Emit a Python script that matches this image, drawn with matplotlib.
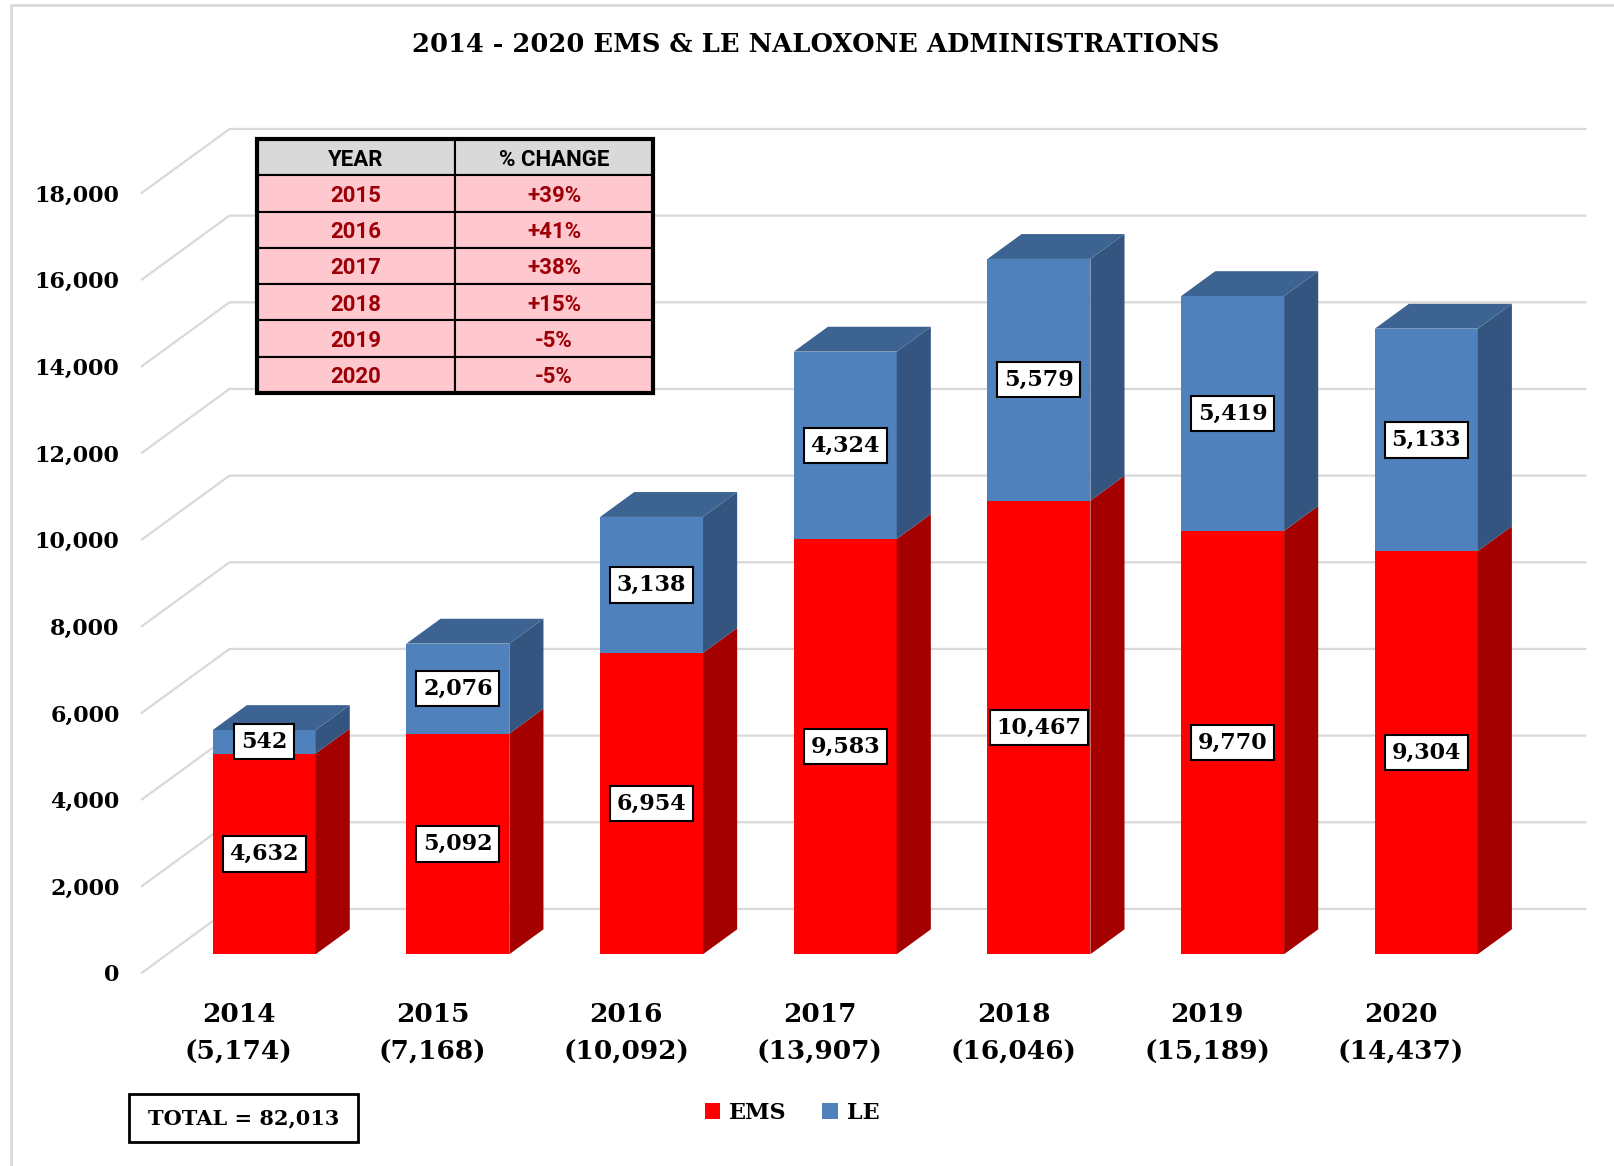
import numpy as np
import matplotlib.pyplot as plt
from matplotlib.patches import Polygon, Rectangle, Patch

years = ['2014', '2015', '2016', '2017', '2018', '2019', '2020']
ems = np.array([4632, 5092, 6954, 9583, 10467, 9770, 9304])
le = np.array([542, 2076, 3138, 4324, 5579, 5419, 5133])
totals = ems + le
yticks = np.arange(0, 18001, 2000)

# oblique projection used for the 3d look (depth d in 0..1)
DX = 0.4517
DV = 1472.0
d0, d1 = 0.29, 0.68
hw = 0.2657

def proj(x, v, d):
    return (x + d * DX, v + d * DV)

serif = 'DejaVu Serif'
fig = plt.figure(figsize=(16.14, 11.66), dpi=100)
ax = fig.add_axes([0, 0, 1, 1])
ax.set_xlim(-1.233, 7.100)
ax.set_ylim(-4461, 22449)
ax.axis('off')

# chart border (only left and top edges show)
ax.plot([11 / 1614, 11 / 1614, 1.0], [0.0, 1 - 5 / 1166, 1 - 5 / 1166],
        transform=ax.transAxes, color='#d9d9d9', lw=2)

# gridlines: left wall diagonals + back wall
for v in yticks:
    a = proj(-0.5, v, 0)
    b = proj(-0.5, v, 1)
    c = proj(6.5, v, 1)
    ax.plot([a[0], b[0], c[0]], [a[1], b[1], c[1]], color='#d9d9d9', lw=1.6, zorder=1)
    ax.text(-0.616, v - 60, f'{v:,}', ha='right', va='center', fontsize=16,
            fontweight='bold', family=serif)

def face(pts, color):
    ax.add_patch(Polygon(pts, closed=True, fc=color, ec='none', zorder=3))

segs = [(ems, '#ff0000', '#a50000', '#c00000'), (le, '#4f81bd', '#34557f', '#3c6391')]
for i in range(len(years)):
    base = 0
    for k, (vals, cf, cs, ct) in enumerate(segs):
        v0, v1 = base, base + vals[i]
        face([proj(i - hw, v0, d0), proj(i + hw, v0, d0), proj(i + hw, v1, d0), proj(i - hw, v1, d0)], cf)
        face([proj(i + hw, v0, d0), proj(i + hw, v0, d1), proj(i + hw, v1, d1), proj(i + hw, v1, d0)], cs)
        if k == len(segs) - 1:
            face([proj(i - hw, v1, d0), proj(i + hw, v1, d0), proj(i + hw, v1, d1), proj(i - hw, v1, d1)], ct)
        cx, cy = proj(i, (v0 + v1) / 2, d0)
        ax.text(cx, cy, f'{vals[i]:,}', ha='center', va='center', fontsize=16,
                fontweight='bold', family=serif, zorder=5,
                bbox=dict(boxstyle='square,pad=0.3', fc='white', ec='black', lw=1.5))
        base = v1
    ax.text(i, -1400, f'{years[i]}\n({totals[i]:,})', ha='center', va='center',
            fontsize=19, fontweight='bold', family=serif, linespacing=1.6)

# title
ax.text(0.5056, 1 - 45 / 1166, '2014 - 2020 EMS & LE NALOXONE ADMINISTRATIONS',
        transform=ax.transAxes, ha='center', va='center', fontsize=18.5,
        fontweight='bold', family=serif)

# % change table
pct = np.round((totals[1:] / totals[:-1] - 1) * 100).astype(int)
rows = [[y, f'{p:+d}%'] for y, p in zip(years[1:], pct)]
tb = ax.table(cellText=rows, colLabels=['YEAR', '% CHANGE'], cellLoc='center',
              bbox=[257 / 1614, 1 - 393 / 1166, 396 / 1614, 254 / 1166], zorder=6)
tb.auto_set_font_size(False)
for (r, c), cell in tb.get_celld().items():
    cell.set_linewidth(1.5)
    cell.set_edgecolor('black')
    t = cell.get_text()
    t.set_fontsize(16)
    t.set_fontweight('bold')
    t.set_family('Roboto')
    t.set_va('center_baseline')
    if r == 0:
        cell.set_facecolor('#d9d9d9')
        t.set_color('black')
    else:
        cell.set_facecolor('#ffc7ce')
        t.set_color('#9c0006')
ax.add_patch(Rectangle((257 / 1614, 1 - 393 / 1166), 396 / 1614, 254 / 1166,
                       transform=ax.transAxes, fill=False, ec='black', lw=3, zorder=7))

# total box
ax.add_patch(Rectangle((129 / 1614, 1 - 1142 / 1166), 229 / 1614, 48 / 1166,
                       transform=ax.transAxes, fill=False, ec='black', lw=2, zorder=7))
ax.text(243.5 / 1614, 1 - 1118 / 1166, f'TOTAL = {totals.sum():,}', transform=ax.transAxes,
        ha='center', va='center', fontsize=15, fontweight='bold', family=serif)

# legend
handles = [Patch(fc='#ff0000', label='EMS'), Patch(fc='#4f81bd', label='LE')]
ax.legend(handles=handles, loc='center', bbox_to_anchor=(792 / 1614, 1 - 1113 / 1166),
          ncol=2, frameon=False, handlelength=0.7, handleheight=0.7, handletextpad=0.4,
          columnspacing=1.6, prop=dict(family=serif, weight='bold', size=16))

plt.savefig('out.png', dpi=100)
